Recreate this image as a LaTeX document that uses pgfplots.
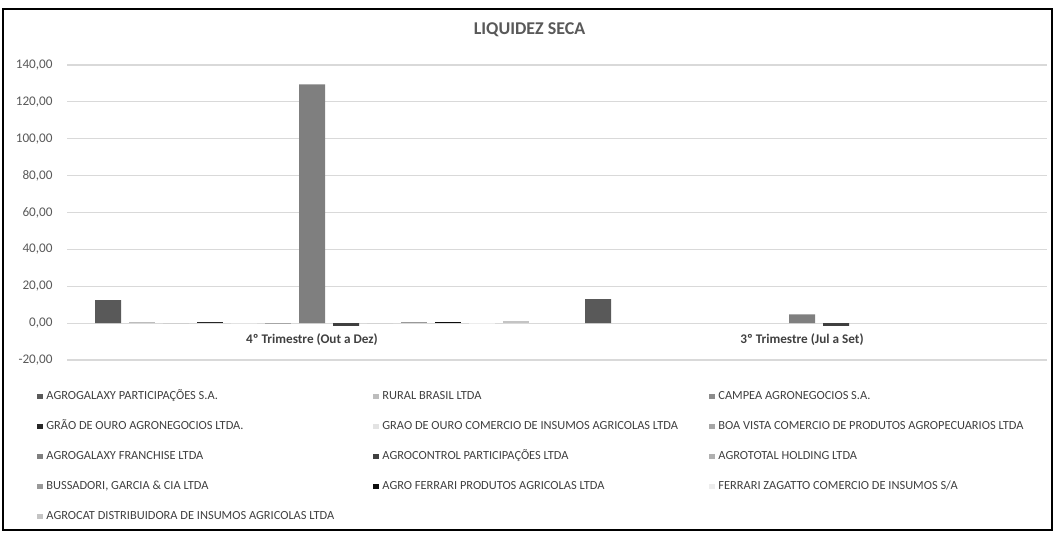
\documentclass[border=0pt]{standalone}
\usepackage{fontspec}
\setmainfont{Carlito}
\usepackage{pgfplots}
\pgfplotsset{compat=1.18}

\definecolor{txt}{HTML}{595959}
\definecolor{gridc}{HTML}{D9D9D9}
\definecolor{c1}{HTML}{595959}
\definecolor{c2}{HTML}{BDBDBD}
\definecolor{c3}{HTML}{8C8C8C}
\definecolor{c4}{HTML}{262626}
\definecolor{c5}{HTML}{E3E3E3}
\definecolor{c6}{HTML}{A6A6A6}
\definecolor{c7}{HTML}{7F7F7F}
\definecolor{c8}{HTML}{404040}
\definecolor{c9}{HTML}{B0B0B0}
\definecolor{c10}{HTML}{999999}
\definecolor{c11}{HTML}{0D0D0D}
\definecolor{c12}{HTML}{EDEDED}
\definecolor{c13}{HTML}{C4C4C4}

% fixed width legend cells so the three columns line up
\newcommand{\legcell}[1]{\makebox[163.5pt][l]{#1}}

\begin{document}
\begin{tikzpicture}
\path[use as bounding box] (0,0) rectangle (529.5pt,267.5pt);
\draw[line width=1pt, black] (1.5pt,2.5pt) rectangle (526pt,263pt);
\node[font=\fontsize{9}{11}\selectfont\bfseries, text=txt] at (264.75pt,252.5pt) {LIQUIDEZ SECA};

\begin{axis}[
    at={(33.5pt,87.5pt)}, anchor=south west,
    scale only axis, width=490pt, height=147.5pt,
    ybar=4pt, bar width=13pt,
    xmin=-0.5, xmax=1.5, ymin=-20, ymax=140,
    xtick={0,1},
    xticklabels={4º Trimestre (Out a Dez), 3º Trimestre (Jul a Set)},
    ytick={-20,0,20,40,60,80,100,120,140},
    ymajorgrids, grid style={gridc, line width=0.6pt},
    axis line style={draw=none},
    major tick length=0pt, tick style={draw=none},
    yticklabel style={font=\fontsize{6.6}{8}\selectfont, text=txt, inner sep=0pt, xshift=-7pt,
        /pgf/number format/.cd, fixed, fixed zerofill, precision=2, use comma, assume math mode=true},
    xticklabel style={font=\fontsize{6.6}{8}\selectfont\bfseries, text=c8, anchor=center, yshift=10pt},
    legend columns=3, legend cell align=left,
    legend style={at={(-0.0306,-0.1017)}, anchor=north west, draw=none, fill=none,
        inner sep=0pt, row sep=9pt, font=\fontsize{6.2}{7}\selectfont, text=c8,
        nodes={inner sep=0pt, text height=4.5pt, text depth=1.5pt},
        /tikz/every odd column/.append style={column sep=1.9pt}},
    every axis plot post/.append style={draw=none,
        legend image code/.code={\fill[##1,draw=none] (0pt,-1.3pt) rectangle (2.6pt,1.3pt);}},
]
% series with no value in a quarter are left out of that quarter
\addplot[fill=c1] coordinates {(0,12.5) (1,13.0)};
\addlegendentry{\legcell{AGROGALAXY PARTICIPAÇÕES S.A.}}
\addplot[fill=c2] coordinates {(0,0.4)};
\addlegendentry{\legcell{RURAL BRASIL LTDA}}
\addplot[fill=c3] coordinates {(0,0)};
\addlegendentry{\legcell{CAMPEA AGRONEGOCIOS S.A.}}
\addplot[fill=c4] coordinates {(0,0.6)};
\addlegendentry{\legcell{GRÃO DE OURO AGRONEGOCIOS LTDA.}}
\addplot[fill=c5] coordinates {(0,0.3)};
\addlegendentry{\legcell{GRAO DE OURO COMERCIO DE INSUMOS AGRICOLAS LTDA}}
\addplot[fill=c6] coordinates {(0,0.3)};
\addlegendentry{\legcell{BOA VISTA COMERCIO DE PRODUTOS AGROPECUARIOS LTDA}}
\addplot[fill=c7] coordinates {(0,129.5) (1,4.8)};
\addlegendentry{\legcell{AGROGALAXY FRANCHISE LTDA}}
\addplot[fill=c8] coordinates {(0,-1.5) (1,-1.5)};
\addlegendentry{\legcell{AGROCONTROL PARTICIPAÇÕES LTDA}}
\addplot[fill=c9] coordinates {(0,0)};
\addlegendentry{\legcell{AGROTOTAL HOLDING LTDA}}
\addplot[fill=c10] coordinates {(0,0.4)};
\addlegendentry{\legcell{BUSSADORI, GARCIA \& CIA LTDA}}
\addplot[fill=c11] coordinates {(0,0.6)};
\addlegendentry{\legcell{AGRO FERRARI PRODUTOS AGRICOLAS LTDA}}
\addplot[fill=c12] coordinates {(0,0.3)};
\addlegendentry{\legcell{FERRARI ZAGATTO COMERCIO DE INSUMOS S/A}}
\addplot[fill=c13] coordinates {(0,1.0)};
\addlegendentry{\legcell{AGROCAT DISTRIBUIDORA DE INSUMOS AGRICOLAS LTDA}}
\end{axis}
\end{tikzpicture}
\end{document}
